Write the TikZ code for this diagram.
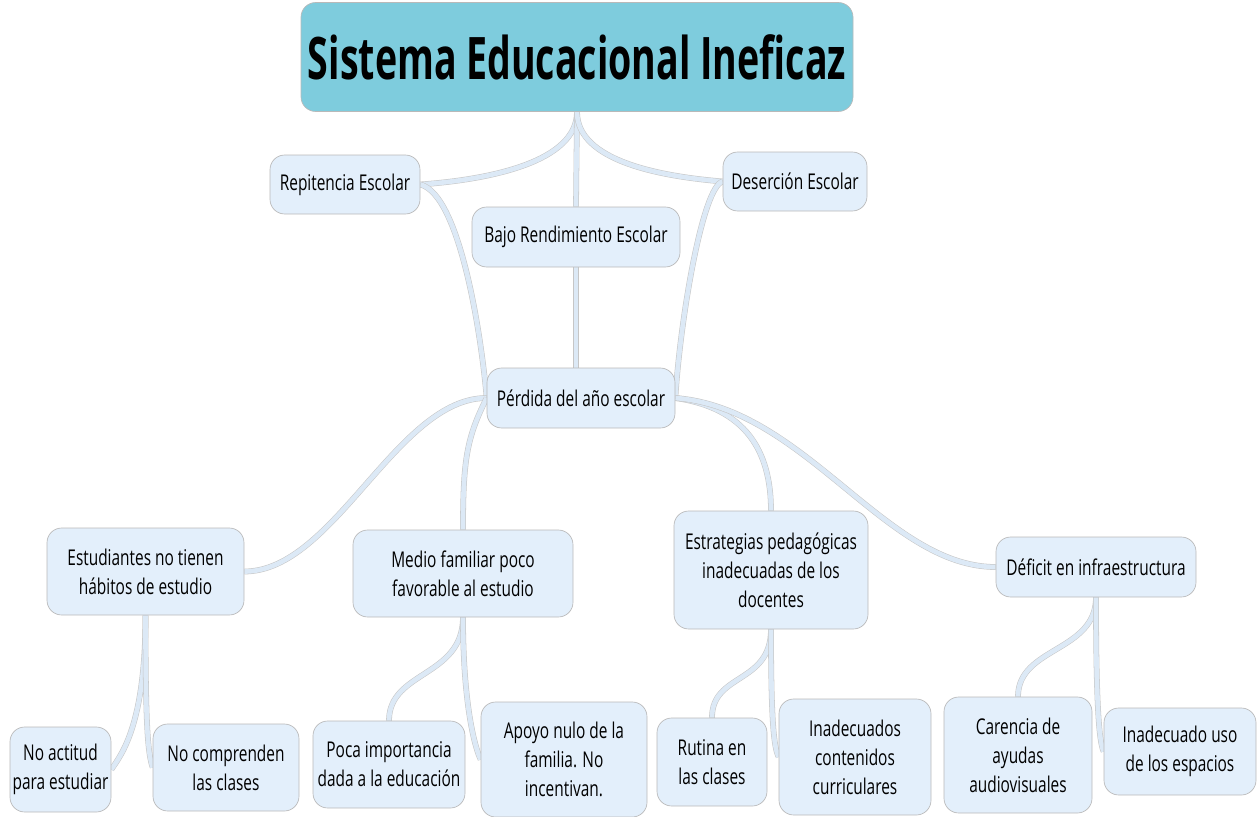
\documentclass[tikz,border=0pt]{standalone}
\usepackage{fontspec}
\setmainfont{Open Sans}[FakeStretch=0.71]
\newfontfamily\titlefont{Open Sans}[FakeStretch=0.64]
\usetikzlibrary{positioning}
\pgfdeclarelayer{back}
\pgfsetlayers{back,main}
\definecolor{titlecol}{HTML}{7ECCDD}
\definecolor{boxcol}{HTML}{E3EFFB}
\definecolor{edgecol}{HTML}{DCE9F6}

\begin{document}
\begin{tikzpicture}[
        x=0.75pt, y=-0.75pt,
        font=\fontsize{16.3}{21.7}\selectfont,
        box/.style={draw=gray!55, line width=0.5pt, rounded corners=11pt, fill=boxcol, inner sep=0pt, align=center},
        title/.style={box, fill=titlecol, font=\titlefont\bfseries\fontsize{44}{46}\selectfont},
        conn/.style={draw=gray!45, line width=0.4pt, double=edgecol, double distance=3.5pt}
    ]
        \useasboundingbox (0,0) rectangle (1257,817);
        \node[title, minimum width=414pt, minimum height=81.75pt] (tit) at (577,57) {Sistema Educacional Ineficaz};
        \node[box, minimum width=112.5pt, minimum height=44.25pt] (rep) at (345,184.5) {Repitencia Escolar};
        \node[box, minimum width=108pt, minimum height=44.25pt] (des) at (795,181.5) {Deserción Escolar};
        \node[box, minimum width=156pt, minimum height=45pt] (bajo) at (576,237) {Bajo Rendimiento Escolar};
        \node[box, minimum width=141pt, minimum height=45pt] (perd) at (581,398) {Pérdida del año escolar};
        \node[box, minimum width=147.75pt, minimum height=65.25pt] (estu) at (145.5,571.5) {Estudiantes no tienen\\hábitos de estudio};
        \node[box, minimum width=165pt, minimum height=65.25pt] (medio) at (463,573.5) {Medio familiar poco\\favorable al estudio};
        \node[box, minimum width=145.5pt, minimum height=88.5pt] (estr) at (771,570) {Estrategias pedagógicas\\inadecuadas de los\\docentes};
        \node[box, minimum width=150pt, minimum height=45pt] (defi) at (1096,567) {Déficit en infraestructura};
        \node[box, minimum width=75.75pt, minimum height=63.75pt] (noact) at (60.5,769.5) {No actitud\\para estudiar};
        \node[box, minimum width=109.5pt, minimum height=65.25pt] (nocomp) at (226,767.5) {No comprenden\\las clases};
        \node[box, minimum width=114pt, minimum height=65.25pt] (poca) at (389,764.5) {Poca importancia\\dada a la educación};
        \node[box, minimum width=124.5pt, minimum height=86.25pt] (apoyo) at (564,759.5) {Apoyo nulo de la\\familia. No\\incentivan.};
        \node[box, minimum width=82.5pt, minimum height=66pt] (rutina) at (712,762) {Rutina en\\las clases};
        \node[box, minimum width=114pt, minimum height=87pt] (inad) at (855,757) {Inadecuados\\contenidos\\curriculares};
        \node[box, minimum width=111pt, minimum height=87pt] (caren) at (1018,755) {Carencia de\\ayudas\\audiovisuales};
        \node[box, minimum width=114pt, minimum height=65.25pt] (uso) at (1180,751.5) {Inadecuado uso\\de los espacios};

        \begin{pgfonlayer}{back}
        % upper level
        \draw[conn] (tit.south) .. controls +(0,50) and +(70,-5) .. (rep.east);
        \draw[conn] (tit.south) -- (bajo.north);
        \draw[conn] (tit.south) .. controls +(0,50) and +(-60,-5) .. (des.west);
        \draw[conn] (rep.east) .. controls +(40,10) and +(-5,-60) .. (perd.west);
        \draw[conn] (bajo.south) -- (bajo.south |- perd.north);
        \draw[conn] (des.west) .. controls +(-20,5) and +(5,-80) .. (perd.east);
        % causes
        \draw[conn] (perd.west) .. controls +(-90,0) and +(90,0) .. (estu.east);
        \draw[conn] (perd.west) .. controls +(-20,40) and +(0,-70) .. (medio.north);
        \draw[conn] (perd.east) .. controls +(70,10) and +(0,-60) .. (estr.north);
        \draw[conn] (perd.east) .. controls +(130,10) and +(-110,0) .. (defi.west);
        % lower level
        \draw[conn] (estu.south) .. controls +(0,110) and +(10,-15) .. (noact.east);
        \draw[conn] (estu.south) .. controls +(0,110) and +(-5,-15) .. (nocomp.west);
        \draw[conn] (medio.south) .. controls +(0,60) and +(0,-50) .. (poca.north);
        \draw[conn] (medio.south) .. controls +(0,90) and +(-5,-10) .. (apoyo.west);
        \draw[conn] (estr.south) .. controls +(0,55) and +(0,-45) .. (rutina.north);
        \draw[conn] (estr.south) .. controls +(0,90) and +(-5,-10) .. (inad.west);
        \draw[conn] (defi.south) .. controls +(0,55) and +(0,-50) .. (caren.north);
        \draw[conn] (defi.south) .. controls +(0,100) and +(-5,-10) .. (uso.west);
        \end{pgfonlayer}
    \end{tikzpicture}
\end{document}
